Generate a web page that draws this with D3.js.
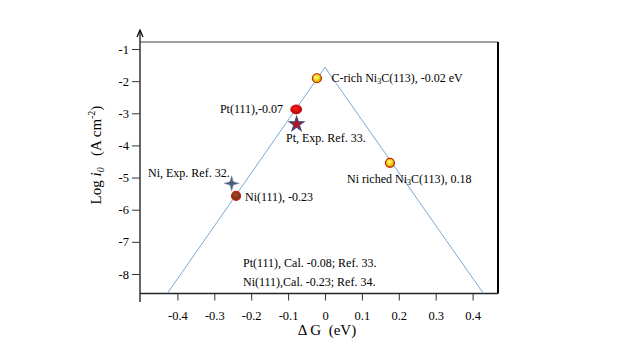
<!DOCTYPE html>
<html><head><meta charset="utf-8">
<script src="https://cdn.jsdelivr.net/npm/d3@7"></script>
<style>body{margin:0;background:#fff}svg{display:block}text{font-family:"Liberation Serif","Times New Roman",serif}</style>
</head><body><svg id="c" width="640" height="360"></svg>
<script>
// Data
const xTicks = [-0.4,-0.3,-0.2,-0.1,0,0.1,0.2,0.3,0.4];
const yTicks = [-1,-2,-3,-4,-5,-6,-7,-8];
const volcanoX = [-0.427, 0, 0.429];
const volcanoY = [-8.6, -1.57, -8.6];
const pointNames = ["C-rich Ni3C(113)", "Pt(111)", "Pt Exp", "Ni Exp", "Ni(111)", "Ni riched Ni3C(113)"];
const pointX = [-0.022, -0.078, -0.077, -0.253, -0.241, 0.176];
const pointY = [-1.91, -2.88, -3.34, -5.18, -5.57, -4.54];
const pointKind = ["yellow", "redEllipse", "star", "cross", "brown", "yellow"];

const svg = d3.select("#c");
const x = d3.scaleLinear().domain([-0.4, 0.4]).range([177.4, 472.6]);
const y = d3.scaleLinear().domain([-1, -8]).range([49, 274]);
const x0 = 140, x1 = 498, yTop = 42, yBot = 293.5;

const defs = svg.append("defs");
const gy = defs.append("radialGradient").attr("id","gy").attr("cx","45%").attr("cy","40%").attr("r","60%");
gy.append("stop").attr("offset","0%").attr("stop-color","#ffff80");
gy.append("stop").attr("offset","60%").attr("stop-color","#e8d010");
gy.append("stop").attr("offset","100%").attr("stop-color","#c08000");
const gr = defs.append("radialGradient").attr("id","gr").attr("cx","45%").attr("cy","40%").attr("r","60%");
gr.append("stop").attr("offset","0%").attr("stop-color","#ff2020");
gr.append("stop").attr("offset","100%").attr("stop-color","#b00000");
const gb = defs.append("radialGradient").attr("id","gb").attr("cx","45%").attr("cy","40%").attr("r","60%");
gb.append("stop").attr("offset","0%").attr("stop-color","#a05030");
gb.append("stop").attr("offset","100%").attr("stop-color","#6a2a10");

// frame
svg.append("line").attr("x1",x0).attr("x2",x1).attr("y1",yTop).attr("y2",yTop).attr("stroke","#808080").attr("stroke-width",1.5);
svg.append("line").attr("x1",x1).attr("x2",x1).attr("y1",yTop).attr("y2",yBot).attr("stroke","#000").attr("stroke-width",2);

// X axis
const xAxis = d3.axisBottom(x).tickValues(xTicks).tickSize(7).tickFormat(d => d===0 ? "0" : d3.format(".1f")(d).replace("\u2212", "-"));
const gx = svg.append("g").attr("transform",`translate(0,${yBot})`).call(xAxis);
gx.select(".domain").remove();
gx.append("line").attr("x1",x0).attr("x2",x1).attr("stroke","#222").attr("stroke-width",1.5);
gx.selectAll(".tick line").attr("stroke","#333");
gx.selectAll(".tick text").attr("font-size",12.5).attr("fill","#000").attr("dy","1.3em").style("font-family","Liberation Serif");

// Y axis
const yAxis = d3.axisLeft(y).tickValues(yTicks).tickSize(8).tickFormat(d => String(d));
const gyA = svg.append("g").attr("transform",`translate(${x0},0)`).call(yAxis);
gyA.select(".domain").remove();
gyA.append("line").attr("y1",31).attr("y2",302).attr("stroke","#333").attr("stroke-width",1.5);
gyA.append("path").attr("d","M-3,37 L0,30 L3,37").attr("fill","none").attr("stroke","#000").attr("stroke-width",1.2);
gyA.selectAll(".tick line").attr("stroke","#333");
gyA.selectAll(".tick text").attr("font-size",12.5).attr("fill","#000").attr("x",-11).style("font-family","Liberation Serif");

// volcano line
const line = d3.line().x((d,i)=>x(volcanoX[i])).y((d,i)=>y(volcanoY[i]));
svg.append("path").datum(volcanoX).attr("d",line).attr("fill","none").attr("stroke","#7aa8d8").attr("stroke-width",1);

// points
pointX.forEach((px,i)=>{
  const cx = x(px), cy = y(pointY[i]), k = pointKind[i];
  if (k==="yellow") svg.append("circle").attr("cx",cx).attr("cy",cy).attr("r",4.5).attr("fill","url(#gy)").attr("stroke","#d02000").attr("stroke-width",1.2);
  else if (k==="redEllipse") svg.append("ellipse").attr("cx",cx).attr("cy",cy).attr("rx",5.5).attr("ry",4.5).attr("fill","url(#gr)").attr("stroke","#c00000").attr("stroke-width",0.8);
  else if (k==="brown") svg.append("circle").attr("cx",cx).attr("cy",cy).attr("r",4.5).attr("fill","url(#gb)").attr("stroke","#d02010").attr("stroke-width",1.2);
  else if (k==="star") {
    const star = d3.symbol().type(d3.symbolStar).size(65);
    svg.append("path").attr("d",star()).attr("transform",`translate(${cx},${cy})`).attr("fill","#c01020").attr("stroke","#3a4a7a").attr("stroke-width",1.2);
  } else if (k==="cross") {
    const s=7.5, w=1.6;
    svg.append("path").attr("d",`M${-s},0 L${-w},${-w} L0,${-s} L${w},${-w} L${s},0 L${w},${w} L0,${s} L${-w},${w} Z`).attr("transform",`translate(${cx},${cy})`).attr("fill","#4a5a78").attr("stroke","#7a8aa8").attr("stroke-width",0.6);
  }
});

// labels
function lab(tx, ty, s, anchor) {
  return svg.append("text").attr("x",tx).attr("y",ty).attr("font-size",12).attr("fill","#000").attr("text-anchor",anchor||"start").text(s);
}
function labSub(tx, ty, a, sub, b) {
  const t = svg.append("text").attr("x",tx).attr("y",ty).attr("font-size",12).attr("fill","#000");
  t.append("tspan").text(a);
  t.append("tspan").attr("font-size",8).attr("dy",2).text(sub);
  t.append("tspan").attr("dy",-2).text(b);
}
labSub(331.5, 82, "C-rich Ni", "3", "C(113), -0.02 eV");
lab(283, 112.5, "Pt(111),-0.07", "end");
lab(286, 142, "Pt, Exp. Ref. 33.");
lab(148, 177, "Ni, Exp. Ref. 32.");
lab(245, 200.5, "Ni(111), -0.23");
labSub(347, 183, "Ni riched Ni", "3", "C(113), 0.18");
lab(243, 267, "Pt(111), Cal. -0.08; Ref. 33.");
lab(243, 286, "Ni(111),Cal. -0.23; Ref. 34.");

// axis titles
const xt = svg.append("text").attr("x",327).attr("y",335).attr("text-anchor","middle").attr("font-size",15).attr("fill","#000").style("white-space","pre");
xt.text("\u0394 G  (eV)");
const yt = svg.append("text").attr("transform","translate(101,155) rotate(-90)").attr("text-anchor","middle").attr("font-size",15).attr("fill","#000").style("white-space","pre");
yt.append("tspan").text("Log ");
yt.append("tspan").attr("font-style","italic").text("i");
yt.append("tspan").attr("font-style","italic").attr("font-size",10).attr("dy",3).text("0");
yt.append("tspan").attr("dy",-3).text("   (A cm");
yt.append("tspan").attr("font-size",10).attr("dy",-6).text("-2");
yt.append("tspan").attr("dy",6).text(")");
</script></body></html>
